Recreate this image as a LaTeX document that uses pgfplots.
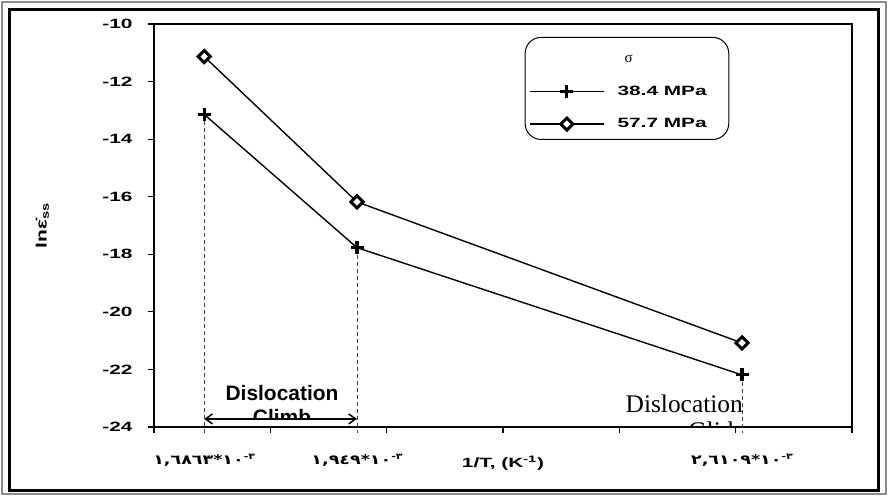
\documentclass[border=0pt]{standalone}
\usepackage{pgfplots}
\pgfplotsset{compat=1.18}
\usepackage{fontspec}
\setmainfont{Liberation Sans}
\newfontfamily\serif{Liberation Serif}
\newfontfamily\dv{DejaVu Sans}
\usetikzlibrary{arrows.meta}
\newcommand\wx[1]{\scalebox{1.55}[1]{#1}}
\newcommand\ar[1]{\scalebox{1.3}[1]{\dv\bfseries #1\raisebox{0.6ex}{\fontsize{8.5}{8}\selectfont\mbox{-}\mbox{٣}}}}
\begin{document}
\begin{tikzpicture}
\begin{axis}[
 at={(0,0)}, anchor=south west,
 scale only axis, width=698bp, height=403bp,
 font=\fontsize{13.5}{15}\selectfont\bfseries,
 xmin=1.6, xmax=2.8, ymin=-24, ymax=-10,
 xtick={1.6,1.8,2.0,2.2,2.4,2.6,2.8}, xticklabels={},
 ytick={-24,-22,-20,-18,-16,-14,-12,-10},
 yticklabels={\wx{-24},\wx{-22},\wx{-20},\wx{-18},\wx{-16},\wx{-14},\wx{-12},\wx{-10}},
 yticklabel style={xshift=-12bp},
 tick pos=left, tick align=outside, major tick length=6bp,
 axis line style={line width=1.6bp}, tick style={line width=1.2bp, black},
 extra x ticks={1.6863,1.949,2.6109},
 extra x tick labels={\ar{\mbox{١,٦٨٦٣}\mbox{*}\mbox{١٠}},\ar{\mbox{١,٩٤٩}\mbox{*}\mbox{١٠}},\ar{\mbox{٢,٦١٠٩}\mbox{*}\mbox{١٠}}},
 extra x tick style={major tick length=0pt, tick label style={anchor=base, yshift=-37bp}},
 clip=false,
 xlabel={\wx{1/T, (K\textsuperscript{-1})}},
 xlabel style={at={(axis description cs:0.5,-0.089)}, anchor=center},
 ylabel={\scalebox{1.4}[1]{\fontsize{15}{15}\selectfont lnε̇\textsubscript{ss}}},
 ylabel style={at={(axis description cs:-0.16,0.5)}, anchor=center, rotate=0},
 legend style={at={(rel axis cs:0.531,0.968)}, anchor=north west, draw=black, line width=1bp,
   rounded corners=16bp, inner xsep=4bp, inner ysep=8bp, row sep=18bp,
   font=\fontsize{13.5}{15}\selectfont\bfseries, cells={anchor=west}},
 legend image code/.code={\draw[mark repeat=2,mark phase=2,#1] plot coordinates {(0bp,0bp) (37bp,0bp) (74bp,0bp)};},
]
\addlegendimage{empty legend}
\addlegendentry{\rule[-7bp]{0pt}{22bp}\hspace{18bp}{\serif\mdseries\fontsize{15}{15}\selectfont σ}}
\addplot[black!75, dash pattern=on 4bp off 3bp, line width=0.8bp, forget plot] coordinates {(1.6863,-13.14) (1.6863,-24.2)};
\addplot[black!75, dash pattern=on 4bp off 3bp, line width=0.8bp, forget plot] coordinates {(1.949,-17.77) (1.949,-24.2)};
\addplot[black!75, dash pattern=on 4bp off 3bp, line width=0.8bp, forget plot] coordinates {(2.6109,-22.19) (2.6109,-24.2)};
\addplot[black, line width=1.4bp, mark=+, mark options={line width=3.2bp, mark size=6.5bp}] coordinates {(1.6863,-13.14) (1.949,-17.77) (2.6109,-22.19)};
\addlegendentry{\hspace{11bp}\wx{38.4 MPa}\kern16bp\null}
\addplot[black, line width=1.4bp, mark=square*, mark options={fill=white, line width=3bp, rotate=45, mark size=4.3bp}] coordinates {(1.6863,-11.13) (1.949,-16.18) (2.6109,-21.08)};
\addlegendentry{\hspace{11bp}\wx{57.7 MPa}\kern16bp\null}
\draw[{Straight Barb[length=7bp,width=10bp]}-{Straight Barb[length=7bp,width=10bp]}, line width=1.5bp] (axis cs:1.6863,-23.72) -- (axis cs:1.949,-23.72);
\end{axis}
% annotations
\node[anchor=base, font=\fontsize{21}{21}\selectfont\bfseries, inner sep=0pt] at (128bp,26.3bp) {Dislocation};
\begin{scope}
\clip (60bp,9bp) rectangle (200bp,30bp);
\node[anchor=base, font=\fontsize{21}{21}\selectfont\bfseries, inner sep=0pt] at (128bp,3bp) {Climb};
\end{scope}
\node[anchor=base east, font=\fontsize{25.5}{25.5}\selectfont\serif, inner sep=0pt] at (589bp,15bp) {Dislocation};
\begin{scope}
\clip (450bp,0bp) rectangle (640bp,14bp);
\node[anchor=base east, font=\fontsize{25.5}{25.5}\selectfont\serif, inner sep=0pt] at (591bp,-12bp) {Glide};
\end{scope}
% frame
\draw[black!45, line width=1.5bp] (-152bp,-67bp) rectangle (732bp,425bp);
\draw[black, line width=3bp] (-144bp,-63bp) rectangle (724bp,417bp);
\pgfresetboundingbox
\path[use as bounding box] (-154bp,-69bp) rectangle (734bp,427bp);
\end{tikzpicture}
\end{document}
